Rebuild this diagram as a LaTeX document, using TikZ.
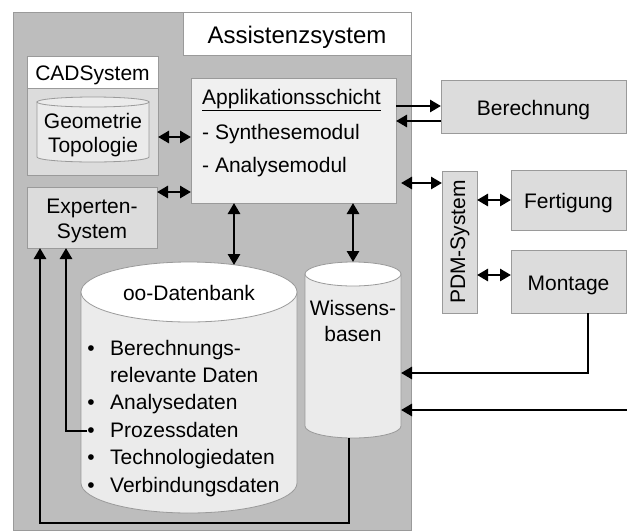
\documentclass[tikz,border=0pt]{standalone}
\usepackage{fontspec}
\setmainfont{Liberation Sans}
\usetikzlibrary{arrows.meta,calc}
\definecolor{outergray}{HTML}{BDBDBD}
\definecolor{boxgray}{HTML}{DCDCDC}
\definecolor{applgray}{HTML}{F0F0F0}
\definecolor{cylbody}{HTML}{EBEBEB}
\definecolor{bordgray}{HTML}{9A9A9A}
\tikzset{
  lbl/.style={inner sep=0pt, font=\fontsize{21}{25}\selectfont, anchor=base},
  lblw/.style={lbl, anchor=base west},
  boxfill/.style={draw=bordgray, line width=0.8pt, fill=boxgray},
  hold/.style={inner sep=0pt, outer sep=0pt},
  conn/.style={line width=2.8pt, -{Triangle[length=11pt,width=12pt]}},
  dconn/.style={line width=2.8pt, {Triangle[length=11pt,width=12pt]}-{Triangle[length=11pt,width=12pt]}},
  plain/.style={line width=2.8pt}
}
\begin{document}
\begin{tikzpicture}[x=1pt,y=-1pt]
\useasboundingbox (0,0) rectangle (627,531);
% outer system
\filldraw[fill=outergray, draw=bordgray, line width=0.8pt] (13,12) rectangle (411,530);
\node[hold, draw=bordgray, line width=0.8pt, fill=white, minimum width=228pt, minimum height=43pt] (title) at (297,33.5) {};
\node[lbl, font=\fontsize{24}{28}\selectfont] (titletext) at (297,43) {Assistenzsystem};
% CAD system
\node[hold, boxfill, minimum width=131pt, minimum height=119pt] (cad) at (92.5,115.5) {};
\node[hold, draw=bordgray, line width=0.8pt, fill=white, minimum width=131pt, minimum height=32pt] (cadhead) at (92.5,72) {};
\node[lbl] (cadtext) at (92.5,80) {CADSystem};
\node[hold, minimum width=112pt, minimum height=65pt] (geo) at (93,129.5) {};
\filldraw[fill=cylbody, draw=bordgray, line width=0.8pt] (37,102) -- (37,157) arc[start angle=180, end angle=360, x radius=56pt, y radius=5pt] -- (149,102) -- cycle;
\filldraw[fill=cylbody, draw=bordgray, line width=0.8pt] (93,102) ellipse[x radius=56pt, y radius=5pt];
\node[lbl] (geotext1) at (93,128) {Geometrie};
\node[lbl] (geotext2) at (93,152) {Topologie};
% Experten-System
\node[hold, boxfill, minimum width=130pt, minimum height=61pt] (exp) at (92,217.5) {};
\node[lbl] (exptext1) at (92,213) {Experten-};
\node[lbl] (exptext2) at (92,238) {System};
% Applikationsschicht
\node[hold, draw=bordgray, line width=0.8pt, fill=applgray, minimum width=205pt, minimum height=125pt] (appl) at (293.5,140.5) {};
\node[lblw] (appltext1) at (202,104) {\underline{Applikationsschicht}};
\node[lblw] (appltext2) at (202,139) {- Synthesemodul};
\node[lblw] (appltext3) at (202,172) {- Analysemodul};
% oo-Datenbank cylinder
\node[hold, minimum width=216pt, minimum height=251pt] (db) at (189,387.5) {};
\filldraw[fill=cylbody, draw=bordgray, line width=0.8pt] (81,292) -- (81,483) arc[start angle=180, end angle=360, x radius=108pt, y radius=30pt] -- (297,292) -- cycle;
\filldraw[fill=white, draw=bordgray, line width=0.8pt] (189,292) ellipse[x radius=108pt, y radius=30pt];
\node[lbl] (dbtitle) at (189,300) {oo-Datenbank};
\foreach \nm/\yy/\bul/\tx in {a/355/1/Berechnungs-, b/382/0/relevante Daten, c/409.5/1/Analysedaten, d/437/1/Prozessdaten, e/464.5/1/Technologiedaten, f/492/1/Verbindungsdaten}{
  \node[lblw] (item\nm) at (110,\yy) {\tx};
  \ifnum\bul=1 \node[lbl] (bul\nm) at (91,\yy) {•};\fi
}
% Wissensbasen cylinder
\node[hold, minimum width=96pt, minimum height=176pt] (wb) at (353,350) {};
\filldraw[fill=cylbody, draw=bordgray, line width=0.8pt] (305,274) -- (305,426) arc[start angle=180, end angle=360, x radius=48pt, y radius=12pt] -- (401,274) -- cycle;
\filldraw[fill=white, draw=bordgray, line width=0.8pt] (353,274) ellipse[x radius=48pt, y radius=12pt];
\node[lbl] (wbtext1) at (353,315) {Wissens-};
\node[lbl] (wbtext2) at (353,341) {basen};
% external boxes
\node[hold, boxfill, minimum width=185pt, minimum height=53pt] (ber) at (533.5,106.5) {};
\node[lbl] (bertext) at (533.5,115) {Berechnung};
\node[hold, boxfill, minimum width=35pt, minimum height=142pt] (pdm) at (459.5,242) {};
\node[inner sep=0pt, font=\fontsize{21}{25}\selectfont, rotate=90] (pdmtext) at (460,242) {PDM-System};
\node[hold, boxfill, minimum width=115pt, minimum height=60pt] (fert) at (568.5,200) {};
\node[lbl] (ferttext) at (568.5,208) {Fertigung};
\node[hold, boxfill, minimum width=115pt, minimum height=63pt] (mont) at (568.5,281.5) {};
\node[lbl] (monttext) at (568.5,290) {Montage};
% connectors
\draw[dconn] (cad.east |- 0,137) -- (appl.west |- 0,137);
\draw[dconn] (exp.east |- 0,192) -- (appl.west |- 0,192);
\draw[dconn] (appl.south -| 234,0) -- (234,265);
\draw[dconn] (appl.south -| wb.north) -- (wb.north);
\draw[conn] (appl.east |- 0,106) -- (ber.west |- 0,106);
\draw[conn] (ber.west |- 0,121) -- (appl.east |- 0,121);
\draw[dconn, shorten <=5pt] (appl.east |- 0,183) -- (pdm.west |- 0,183);
\draw[dconn] (pdm.east |- fert.west) -- (fert.west);
\draw[dconn] (pdm.east |- 0,275) -- (mont.west |- 0,275);
\coordinate (montdown) at (588,373);
\draw[conn] (mont.south -| montdown) -- (montdown) -- (wb.east |- montdown);
\coordinate (extin) at (627,410);
\draw[conn] (extin) -- (wb.east |- extin);
\coordinate (wbdown) at (349,523);
\coordinate (leftcorner) at (40,523);
\draw[conn] (wb.south -| wbdown) -- (wbdown) -- (leftcorner) -- (exp.south -| leftcorner);
\coordinate (prozcorner) at (66,431);
\draw[conn] (buld.west |- prozcorner) -- (prozcorner) -- (exp.south -| prozcorner);
\end{tikzpicture}
\end{document}
